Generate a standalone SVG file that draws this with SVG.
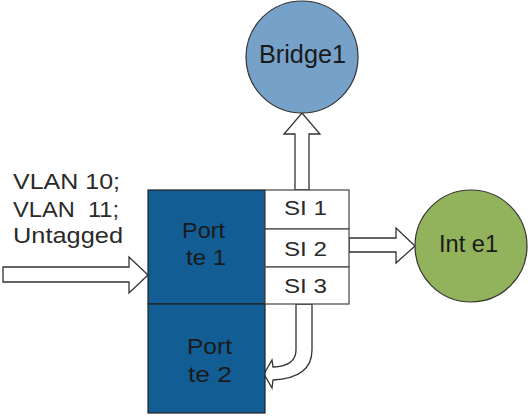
<svg xmlns="http://www.w3.org/2000/svg" width="528" height="416" viewBox="0 0 528 416">
<style>
  text { font-family: "Liberation Sans", Arial, sans-serif; fill: #1a1a1a; }
  .port { fill: #135d95; stroke: #222; stroke-width: 1.2; }
  .si { fill: #ffffff; stroke: #444; stroke-width: 1.2; }
  .arrow { fill: #ffffff; stroke: #333; stroke-width: 1.3; stroke-linejoin: miter; }
  .circ { stroke: #333; stroke-width: 1.2; }
  .lbl { font-size: 22px; }
  .sil { font-size: 20px; fill: #2a2a2a; }
  .vl { font-size: 22px; fill: #2a2a2a; }
</style>
<rect width="528" height="416" fill="#ffffff"/>
<g id="connectors">
  <polygon class="arrow" points="295,190 295,134 284,134 302,113 320,134 309,134 309,190"/>
  <polygon class="arrow" points="349,238 396,238 396,228 415,246 396,263 396,252 349,252"/>
  <polygon class="arrow" points="3,267 129,267 129,257 148,275 129,293 129,282 3,282"/>
  <path class="arrow" d="M296,304 L296,350 Q296,366 273,367 L272,360 L264,374 L272,388 L273,380 Q312,378 312,350 L312,304 Z"/>
</g>
<g id="bridge1">
  <circle class="circ" cx="302" cy="57" r="56" fill="#76a1c9"/>
  <text x="259" y="63" style="font-size:25px" textLength="87" lengthAdjust="spacingAndGlyphs">Bridge1</text>
</g>
<g id="inte1">
  <circle class="circ" cx="471" cy="246" r="56" fill="#92b25b"/>
  <text x="439" y="252" style="font-size:24px" textLength="59" lengthAdjust="spacingAndGlyphs">Int e1</text>
</g>
<g id="vlan-label">
  <text class="vl" x="13" y="189" textLength="107" lengthAdjust="spacingAndGlyphs">VLAN 10;</text>
  <text class="vl" x="13" y="217" xml:space="preserve" style="white-space:pre" textLength="106" lengthAdjust="spacingAndGlyphs">VLAN  11;</text>
  <text class="vl" x="13" y="243" textLength="110" lengthAdjust="spacingAndGlyphs">Untagged</text>
</g>
<g id="porte1">
  <rect class="port" x="148" y="190" width="117" height="114"/>
  <text class="lbl" x="182" y="238" textLength="43" lengthAdjust="spacingAndGlyphs">Port</text>
  <text class="lbl" x="186" y="265" textLength="40" lengthAdjust="spacingAndGlyphs">te 1</text>
</g>
<g id="porte2">
  <rect class="port" x="148" y="304" width="117" height="109"/>
  <text class="lbl" x="187" y="354" textLength="45" lengthAdjust="spacingAndGlyphs">Port</text>
  <text class="lbl" x="188" y="382" textLength="44" lengthAdjust="spacingAndGlyphs">te 2</text>
</g>
<g id="si1">
  <rect class="si" x="265" y="190" width="84" height="39"/>
  <text class="sil" x="284" y="215" textLength="43" lengthAdjust="spacingAndGlyphs">SI 1</text>
</g>
<g id="si2">
  <rect class="si" x="265" y="229" width="84" height="38"/>
  <text class="sil" x="284" y="256" textLength="43" lengthAdjust="spacingAndGlyphs">SI 2</text>
</g>
<g id="si3">
  <rect class="si" x="265" y="267" width="84" height="37"/>
  <text class="sil" x="284" y="293" textLength="43" lengthAdjust="spacingAndGlyphs">SI 3</text>
</g>
</svg>
